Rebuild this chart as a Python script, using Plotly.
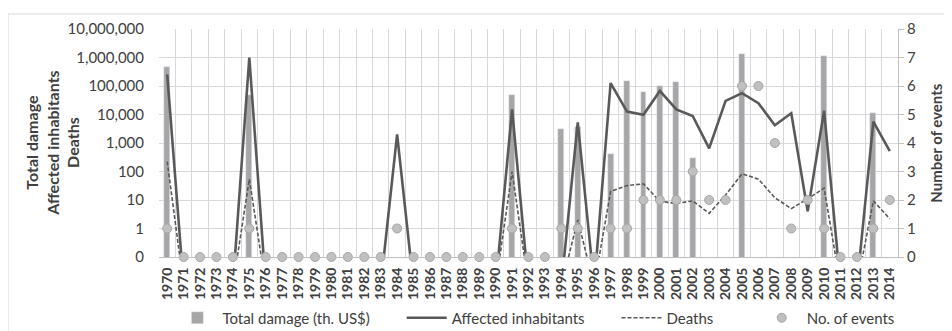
import plotly.graph_objects as go

years = [str(y) for y in range(1970, 2015)]

# Total damage (th. US$), None = no damage
total_damage = [480000, None, None, None, None, 50000, None, None, None, None,
                None, None, None, None, None, None, None, None, None, None,
                None, 50000, None, None, 3000, 3500, None, 400, 150000, 63000,
                100000, 138000, 310, None, None, 1370000, None, None, None, None,
                1120000, None, None, 11500, None]

affected = [256000, 0, 0, 0, 0, 1000000, 0, 0, 0, 0,
            0, 0, 0, 0, 2000, 0, 0, 0, 0, 0,
            0, 15000, 0, 0, 0, 5300, 0, 126000, 12600, 9800,
            67000, 15000, 8900, 650, 30000, 56000, 25000, 4200, 11000, 4,
            13500, 0, 0, 5600, 520]

deaths = [224, 0, 0, 0, 0, 54, 0, 0, 0, 0,
          0, 0, 0, 0, 0, 0, 0, 0, 0, 0,
          0, 100, 0, 0, 0, 2, 0, 20, 32, 37,
          9, 7.6, 9.3, 3.4, 15, 83, 54, 12, 5, 11,
          26, 0, 0, 9.3, 2.2]

events = [1, 0, 0, 0, 0, 1, 0, 0, 0, 0,
          0, 0, 0, 0, 1, 0, 0, 0, 0, 0,
          0, 1, 0, 0, 1, 1, 0, 1, 1, 2,
          2, 2, 3, 2, 2, 6, 6, 4, 1, 2,
          1, 0, 0, 1, 2]

left_ticks = [0.1, 1, 10, 100, 1000, 10000, 100000, 1000000, 10000000]
left_labels = ["0", "1", "10", "100", "1,000", "10,000", "100,000", "1,000,000", "10,000,000"]

# zeros cannot sit on a log axis, push them below the bottom so the lines get clipped
def floor0(vals):
    return [v if v > 0 else 0.01 for v in vals]

# trailing non-breaking spaces widen the gaps between legend entries
def pad(name, n):
    return name + "\u00a0" * n

FONT = "Lato"
GRID = "#d9d9d9"

fig = go.Figure()
fig.add_trace(go.Bar(x=years, y=total_damage, name=pad("Total damage (th. US$)", 7),
                     marker_color="#a6a6a6", width=0.36))
fig.add_trace(go.Scatter(x=years, y=floor0(affected), name=pad("Affected inhabitants", 7),
                         mode="lines", line=dict(color="#595959", width=2.6)))
fig.add_trace(go.Scatter(x=years, y=floor0(deaths), name=pad("Deaths", 10),
                         mode="lines", line=dict(color="#595959", width=1.6, dash="4px,2px")))
fig.add_trace(go.Scatter(x=years, y=events, name="No. of events", yaxis="y2",
                         mode="markers", cliponaxis=False,
                         marker=dict(size=9, color="#c0c0c0", line=dict(color="#a6a6a6", width=1))))

# page body has an 8px margin, so the figure is drawn 8px smaller and shifted
fig.update_layout(
    width=944, height=323,
    margin=dict(l=151, r=54, t=21, b=74, autoexpand=False),
    paper_bgcolor="white", plot_bgcolor="white",
    font=dict(family=FONT, size=15, color="#404040"),
    showlegend=True,
    legend=dict(orientation="h", x=0.51, xanchor="center", y=-0.2675, yanchor="middle",
                font=dict(size=15, color="#404040"), traceorder="normal", itemwidth=40),
    bargap=0,
    xaxis=dict(type="category", tickson="boundaries", showgrid=True, gridcolor=GRID,
               tickmode="array", tickvals=years, automargin=False, range=[-0.5, 44.5],
               showline=True, linecolor="#bfbfbf", ticks="", tickangle=-90,
               tickfont=dict(size=14, weight="bold", color="#404040"),
               ticklabelstandoff=4),
    yaxis=dict(type="log", range=[-1, 7], tickvals=left_ticks, ticktext=left_labels,
               showgrid=True, gridcolor=GRID, zeroline=False, ticks="", automargin=False,
               ticklabelstandoff=14, tickfont=dict(size=15)),
    yaxis2=dict(overlaying="y", side="right", range=[0, 8], dtick=1, showgrid=False,
                zeroline=False, showline=True, linecolor="#bfbfbf", ticks="outside",
                automargin=False,
                ticklen=5, tickcolor="#bfbfbf", tickfont=dict(size=15)),
    annotations=[
        dict(text="Total damage<br>Affected inhabitants<br>Deaths", xref="paper", yref="paper",
             x=-0.145, y=0.5, xanchor="center", yanchor="middle", textangle=-90,
             showarrow=False, font=dict(size=16, weight="bold", color="#404040")),
        dict(text="Number of events", xref="paper", yref="paper",
             x=1.051, y=0.5, xanchor="center", yanchor="middle", textangle=-90,
             showarrow=False, font=dict(size=15, weight="bold", color="#404040")),
    ],
    shapes=[dict(type="rect", xref="paper", yref="paper", x0=-0.2043, x1=1.2, y0=-0.5, y1=1.0658,
                 line=dict(color="#d9d9d9", width=1), layer="below")],
)

fig.write_html("out.html")
